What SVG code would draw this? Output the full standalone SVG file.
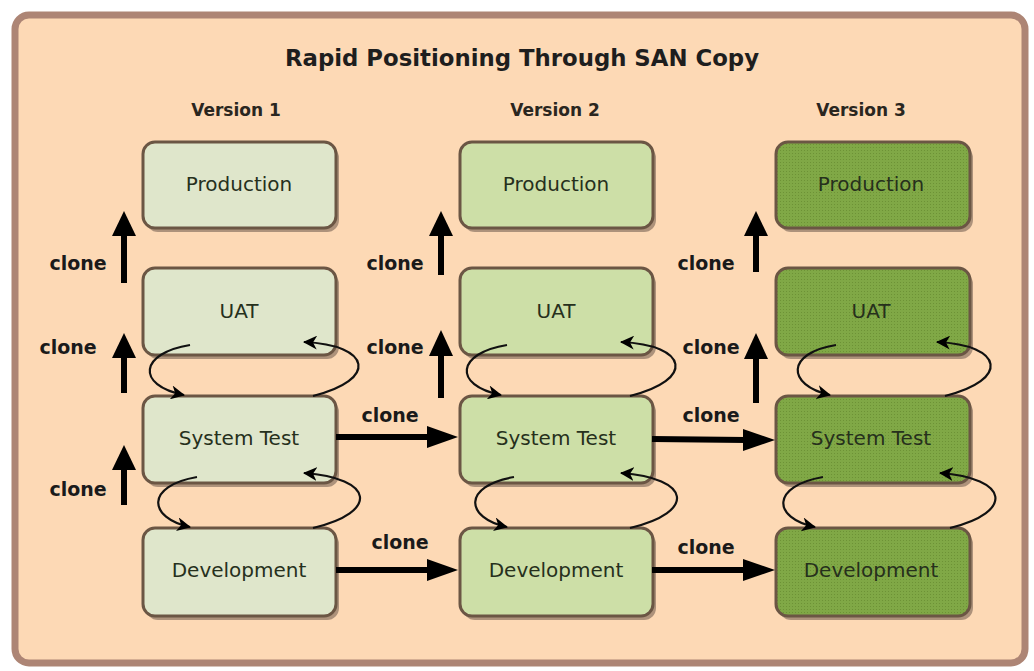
<svg xmlns="http://www.w3.org/2000/svg" width="1034" height="671" viewBox="0 0 1034 671">
<defs>
<style>
.box{stroke:#6b5644;stroke-width:3}
.shadow{fill:#8a7362;opacity:0.7}
.v1{fill:#dfe6cb}
.v2{fill:#cddfa7}
.lbl{font-family:"DejaVu Sans",Verdana,sans-serif;font-size:20px;fill:#26301c;text-anchor:middle}
.clone{font-family:"DejaVu Sans",Verdana,sans-serif;font-size:19px;font-weight:bold;fill:#1a1a1a;text-anchor:middle}
.ver{font-family:"DejaVu Sans",Verdana,sans-serif;font-size:17px;font-weight:bold;fill:#2a2620;text-anchor:middle}
.thin{fill:none;stroke:#111;stroke-width:2.2;marker-end:url(#ah)}
.thick{stroke:#000;stroke-width:6;fill:none}
.head{fill:#000}
</style>
<marker id="ah" markerUnits="userSpaceOnUse" markerWidth="16" markerHeight="14" refX="13" refY="7" orient="auto">
<path d="M0,0 L14,7 L0,14 L4,7 Z" fill="#000"/>
</marker>
<pattern id="dots" width="3" height="3" patternUnits="userSpaceOnUse">
<rect width="3" height="3" fill="#80a846"/>
<rect width="1" height="1" fill="#6d9236"/>
</pattern>
</defs>
<rect width="1034" height="671" fill="#ffffff"/>
<rect x="15" y="15" width="1010" height="648" rx="14" fill="#fdd9b5" stroke="#ad8575" stroke-width="7"/>
<text x="522" y="66" font-family="DejaVu Sans,Verdana,sans-serif" font-size="23" font-weight="bold" fill="#1e1e1e" text-anchor="middle" textLength="474" lengthAdjust="spacingAndGlyphs">Rapid Positioning Through SAN Copy</text>
<text class="ver" x="236" y="116">Version 1</text>
<text class="ver" x="555" y="116">Version 2</text>
<text class="ver" x="861" y="116">Version 3</text>

<g id="v1-production"><rect class="shadow" x="146" y="146" width="193" height="86" rx="12"/><rect class="box v1" x="143" y="142" width="193" height="86" rx="12"/><text class="lbl" x="239" y="191">Production</text></g>
<g id="v1-uat"><rect class="shadow" x="146" y="272" width="193" height="87" rx="12"/><rect class="box v1" x="143" y="268" width="193" height="87" rx="12"/><text class="lbl" x="239" y="318">UAT</text></g>
<g id="v1-systemtest"><rect class="shadow" x="146" y="400" width="193" height="87" rx="12"/><rect class="box v1" x="143" y="396" width="193" height="87" rx="12"/><text class="lbl" x="239" y="445">System Test</text></g>
<g id="v1-development"><rect class="shadow" x="146" y="532" width="193" height="88" rx="12"/><rect class="box v1" x="143" y="528" width="193" height="88" rx="12"/><text class="lbl" x="239" y="577">Development</text></g>

<g id="v2-production"><rect class="shadow" x="463" y="146" width="193" height="86" rx="12"/><rect class="box v2" x="460" y="142" width="193" height="86" rx="12"/><text class="lbl" x="556" y="191">Production</text></g>
<g id="v2-uat"><rect class="shadow" x="463" y="272" width="193" height="87" rx="12"/><rect class="box v2" x="460" y="268" width="193" height="87" rx="12"/><text class="lbl" x="556" y="318">UAT</text></g>
<g id="v2-systemtest"><rect class="shadow" x="463" y="400" width="193" height="87" rx="12"/><rect class="box v2" x="460" y="396" width="193" height="87" rx="12"/><text class="lbl" x="556" y="445">System Test</text></g>
<g id="v2-development"><rect class="shadow" x="463" y="532" width="193" height="88" rx="12"/><rect class="box v2" x="460" y="528" width="193" height="88" rx="12"/><text class="lbl" x="556" y="577">Development</text></g>

<g id="v3-production"><rect class="shadow" x="779" y="146" width="194" height="86" rx="12"/><rect class="box" fill="url(#dots)" x="776" y="142" width="194" height="86" rx="12"/><text class="lbl" x="871" y="191">Production</text></g>
<g id="v3-uat"><rect class="shadow" x="779" y="272" width="194" height="87" rx="12"/><rect class="box" fill="url(#dots)" x="776" y="268" width="194" height="87" rx="12"/><text class="lbl" x="871" y="318">UAT</text></g>
<g id="v3-systemtest"><rect class="shadow" x="779" y="400" width="194" height="87" rx="12"/><rect class="box" fill="url(#dots)" x="776" y="396" width="194" height="87" rx="12"/><text class="lbl" x="871" y="445">System Test</text></g>
<g id="v3-development"><rect class="shadow" x="779" y="532" width="194" height="88" rx="12"/><rect class="box" fill="url(#dots)" x="776" y="528" width="194" height="88" rx="12"/><text class="lbl" x="871" y="577">Development</text></g>

<g id="connectors">
<line class="thick" x1="124" y1="234" x2="124" y2="283"/><polygon class="head" points="124,211 112,236 136,236"/>
<line class="thick" x1="124" y1="356" x2="124" y2="393"/><polygon class="head" points="124,333 112,358 136,358"/>
<line class="thick" x1="124" y1="468" x2="124" y2="505"/><polygon class="head" points="124,445 112,470 136,470"/>
<line class="thick" x1="441" y1="234" x2="441" y2="275"/><polygon class="head" points="441,211 429,236 453,236"/>
<line class="thick" x1="441" y1="354" x2="441" y2="398"/><polygon class="head" points="441,330 429,356 453,356"/>
<line class="thick" x1="756" y1="234" x2="756" y2="272"/><polygon class="head" points="756,211 744,236 768,236"/>
<line class="thick" x1="756" y1="357" x2="756" y2="403"/><polygon class="head" points="756,333 744,359 768,359"/>
<line class="thick" x1="336" y1="437" x2="430" y2="437"/><polygon class="head" points="458,437 427,426 427,448"/>
<line class="thick" x1="652" y1="439" x2="746" y2="440"/><polygon class="head" points="775,440 743,429 743,451"/>
<line class="thick" x1="336" y1="570" x2="430" y2="570"/><polygon class="head" points="458,570 427,559 427,581"/>
<line class="thick" x1="652" y1="570" x2="746" y2="570"/><polygon class="head" points="775,570 743,559 743,581"/>
<path class="thin" d="M190,345 C140,353 135,385 184,395"/>
<path class="thin" d="M313,396 C378,380 372,345 304,342"/>
<path class="thin" d="M197,477 C145,486 148,518 190,527"/>
<path class="thin" d="M313,528 C380,512 374,478 304,473"/>
<path class="thin" d="M507,345 C457,353 452,385 501,395"/>
<path class="thin" d="M630,396 C695,380 689,345 621,342"/>
<path class="thin" d="M514,477 C462,486 465,518 507,527"/>
<path class="thin" d="M630,528 C697,512 691,478 621,473"/>
<path class="thin" d="M836,345 C786,353 786,385 830,395"/>
<path class="thin" d="M945,396 C1010,380 1004,345 937,342"/>
<path class="thin" d="M823,477 C771,486 772,518 815,527"/>
<path class="thin" d="M950,528 C1015,512 1009,478 940,473"/>
<text class="clone" x="78" y="270">clone</text>
<text class="clone" x="68" y="354">clone</text>
<text class="clone" x="78" y="496">clone</text>
<text class="clone" x="395" y="270">clone</text>
<text class="clone" x="395" y="354">clone</text>
<text class="clone" x="706" y="270">clone</text>
<text class="clone" x="711" y="354">clone</text>
<text class="clone" x="390" y="422">clone</text>
<text class="clone" x="711" y="422">clone</text>
<text class="clone" x="400" y="549">clone</text>
<text class="clone" x="706" y="554">clone</text>
</g>
</svg>
